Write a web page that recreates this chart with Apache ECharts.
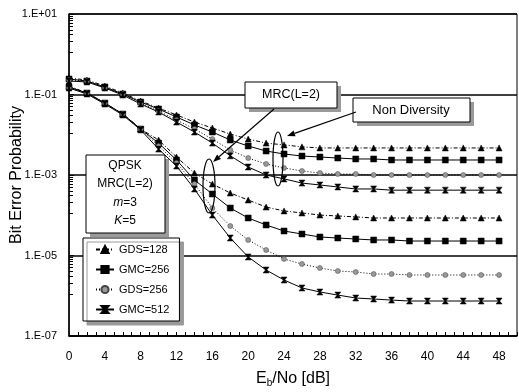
<!DOCTYPE html>
<html>
<head>
<meta charset="utf-8">
<script src="https://cdn.jsdelivr.net/npm/echarts@6.0.0/dist/echarts.min.js"></script>
<style>
  html, body { margin: 0; padding: 0; background: #fff; }
  #chart { width: 519px; height: 392px; }
</style>
</head>
<body>
<div id="chart"></div>
<script>
// Eb/No (dB) for every marker
const ebNo = [0, 2, 4, 6, 8, 10, 12, 14, 16, 18, 20, 22, 24, 26, 28, 30, 32, 34, 36, 38, 40, 42, 44, 46, 48];

// legend names
const seriesNames = ['GDS=128', 'GMC=256', 'GDS=256', 'GMC=512'];

// Non Diversity group (upper curves)
const ndGds128 = [0.257, 0.229, 0.163, 0.109, 0.069, 0.046, 0.031, 0.0207, 0.0147, 0.0104, 0.0078, 0.0062, 0.0056, 0.0050, 0.0047,
    0.0047, 0.0047, 0.0047, 0.0047, 0.0047, 0.0047, 0.0047, 0.0047, 0.0047, 0.0047];
const ndGmc256 = [0.243, 0.216, 0.154, 0.103, 0.065, 0.0436, 0.0276, 0.0175, 0.0117, 0.0074, 0.00525, 0.00394, 0.00333, 0.00296, 0.0028,
    0.00264, 0.0025, 0.0025, 0.00236, 0.00236, 0.00236, 0.00236, 0.00236, 0.00236, 0.00236];
const ndGds256 = [0.229, 0.216, 0.145, 0.103, 0.0615, 0.0389, 0.0232, 0.0139, 0.0078, 0.0042, 0.00264, 0.00188, 0.00149, 0.00126, 0.00112,
    0.00106, 0.00106, 0.001, 0.001, 0.001, 0.001, 0.001, 0.001, 0.001, 0.001];
const ndGmc512 = [0.216, 0.205, 0.145, 0.097, 0.058, 0.0367, 0.0207, 0.0117, 0.0062, 0.003, 0.00158, 0.001, 0.0008, 0.00063, 0.000565,
    0.000504, 0.00045, 0.00045, 0.00042, 0.00042, 0.00042, 0.00042, 0.00042, 0.00042, 0.00042];

// MRC(L=2) group (lower curves)
const mrcGds128 = [0.163, 0.109, 0.0615, 0.0328, 0.0139, 0.0074, 0.0028, 0.00112, 0.000597, 0.000357, 0.000239, 0.00016, 0.000128, 0.000114, 0.000101,
    0.000096, 0.000091, 0.0000855, 0.0000855, 0.0000855, 0.0000855, 0.0000855, 0.0000855, 0.0000855, 0.0000855];
const mrcGmc256 = [0.154, 0.109, 0.0615, 0.0328, 0.0139, 0.0062, 0.00236, 0.00075, 0.000337, 0.000151, 0.0000855, 0.0000573, 0.0000406, 0.0000342, 0.0000288,
    0.0000272, 0.0000257, 0.0000243, 0.0000243, 0.0000229, 0.0000229, 0.0000229, 0.0000229, 0.0000229, 0.0000229];
const mrcGds256 = [0.145, 0.109, 0.0615, 0.0328, 0.0139, 0.00525, 0.00199, 0.000597, 0.000151, 0.0000541, 0.0000243, 0.0000137, 0.0000082, 0.00000615, 0.00000489,
    0.00000412, 0.00000389, 0.00000347, 0.00000347, 0.00000328, 0.00000328, 0.00000328, 0.00000328, 0.00000328, 0.00000328];
const mrcGmc512 = [0.145, 0.103, 0.058, 0.031, 0.0132, 0.0044, 0.00167, 0.00045, 0.000101, 0.0000272, 0.0000092, 0.00000436, 0.00000246, 0.00000156, 0.00000124,
    0.00000104, 0.00000088, 0.00000083, 0.00000078, 0.00000074, 0.00000074, 0.00000074, 0.00000074, 0.00000074, 0.00000074];

const FONT = '"Liberation Sans", Arial, sans-serif';

// marker + line look of each legend entry
const looks = {
    'GDS=128': { symbol: 'triangle', size: 6, fill: '#000', stroke: '#000', dash: [4, 2, 1, 2] },
    'GMC=256': { symbol: 'rect', size: 6, fill: '#000', stroke: '#000', dash: 'solid' },
    'GDS=256': { symbol: 'circle', size: 5, fill: '#999', stroke: '#444', dash: [1, 2] },
    'GMC=512': { symbol: 'path://M0,0L10,0L6,5L10,10L0,10L4,5Z', size: 6, fill: '#000', stroke: '#000', dash: 'solid' }
};

function makeSeries(name, values) {
    const l = looks[name];
    return {
        name: name,
        type: 'line',
        data: ebNo.map((x, i) => [x, values[i]]),
        symbol: l.symbol,
        symbolSize: l.size,
        showAllSymbol: true,
        itemStyle: { color: l.fill, borderColor: l.stroke, borderWidth: 0.5 },
        lineStyle: { color: '#000', width: 1, type: l.dash },
        emphasis: { disabled: true },
        z: 3
    };
}

// 1.E-03 style labels
function expLabel(v) {
    const e = Math.round(Math.log10(v));
    return '1.E' + (e < 0 ? '-' : '+') + String(Math.abs(e)).padStart(2, '0');
}

// box with the grey shadow at bottom right
function box(x, y, w, h) {
    return [
        { type: 'rect', shape: { x: x + 4, y: y + 4, width: w, height: h }, style: { fill: '#9a9a9a' }, z: 10 },
        { type: 'rect', shape: { x: x, y: y, width: w, height: h }, style: { fill: '#fff', stroke: '#000', lineWidth: 1 }, z: 11 }
    ];
}

function label(text, x, y, size, rich) {
    return {
        type: 'text', z: 12,
        style: { text: text, x: x, y: y, font: size + 'px ' + FONT, fill: '#000', align: 'center', verticalAlign: 'middle', rich: rich }
    };
}

function arrow(x1, y1, x2, y2) {
    const a = Math.atan2(y2 - y1, x2 - x1);
    const len = 8, wid = 3;
    const bx = x2 - len * Math.cos(a), by = y2 - len * Math.sin(a);
    return [
        { type: 'line', shape: { x1: x1, y1: y1, x2: bx, y2: by }, style: { stroke: '#000', lineWidth: 1.2 }, z: 12 },
        { type: 'polygon', z: 12, shape: { points: [[x2, y2],
            [bx + wid * Math.sin(a), by - wid * Math.cos(a)],
            [bx - wid * Math.sin(a), by + wid * Math.cos(a)]] }, style: { fill: '#000' } }
    ];
}

const italic = { i: { fontStyle: 'italic', fontSize: 12, fontFamily: FONT } };

const graphics = [].concat(
    box(86, 155, 79, 78),
    [label('QPSK', 125, 166, 12), label('MRC(L=2)', 125, 184, 12),
     label('{i|m}=3', 125, 203, 12, italic), label('{i|K}=5', 125, 221, 12, italic)],
    box(245, 82, 92, 26),
    [label('MRC(L=2)', 291, 95, 12.5)],
    box(353, 98, 117, 24),
    [label('Non Diversity', 411, 110, 13)],
    [{ type: 'ellipse', shape: { cx: 209, cy: 186, rx: 6, ry: 27 }, style: { fill: 'none', stroke: '#000', lineWidth: 1.2 }, z: 12 },
     { type: 'ellipse', shape: { cx: 278, cy: 159, rx: 5, ry: 27 }, style: { fill: 'none', stroke: '#000', lineWidth: 1.2 }, z: 12 }],
    arrow(274, 109, 213, 162),
    arrow(356, 112, 287, 136)
);

const chart = echarts.init(document.getElementById('chart'));
chart.setOption({
    animation: false,
    backgroundColor: '#fff',
    textStyle: { fontFamily: FONT, color: '#000' },
    grid: { left: 69, top: 14, right: 2, bottom: 56, outerBoundsMode: 'none', containLabel: false,
        show: true, borderColor: '#000', borderWidth: 1, backgroundColor: '#fff' },
    legend: {
        data: seriesNames,
        orient: 'vertical',
        left: 83, top: 238,
        itemWidth: 18, itemHeight: 9, itemGap: 9,
        padding: [6, 10, 6, 12],
        backgroundColor: '#fff', borderColor: '#000', borderWidth: 1,
        shadowColor: '#9a9a9a', shadowBlur: 0, shadowOffsetX: 4, shadowOffsetY: 4,
        textStyle: { fontSize: 11, fontFamily: FONT, color: '#000' },
        selectedMode: false,
        z: 12
    },
    xAxis: {
        type: 'value', min: 0, max: 50, interval: 4,
        name: 'E{sub|b}/No [dB]', nameLocation: 'middle', nameGap: 34, nameMoveOverlap: false,
        nameTextStyle: { fontSize: 16, fontFamily: FONT, color: '#000',
            rich: { sub: { fontSize: 10, fontFamily: FONT, verticalAlign: 'bottom', padding: [8, 0, 0, 0] } } },
        axisLine: { lineStyle: { color: '#000', width: 1.5 } },
        axisTick: { inside: true, length: 4, lineStyle: { color: '#000' } },
        minorTick: { show: true, splitNumber: 4, length: 4, lineStyle: { color: '#000' } },
        axisLabel: { fontSize: 12, margin: 15, color: '#000', formatter: v => (v % 4 === 0 && v <= 48) ? String(v) : '' },
        splitLine: { show: false }
    },
    yAxis: {
        type: 'log', logBase: 10, min: 1e-7, max: 10, interval: 2,
        name: 'Bit Error Probability', nameLocation: 'middle', nameGap: 44, nameMoveOverlap: false,
        nameTextStyle: { fontSize: 16, fontFamily: FONT, color: '#000' },
        axisLine: { show: true, lineStyle: { color: '#000', width: 1.5 } },
        axisTick: { inside: true, length: 5, lineStyle: { color: '#000' } },
        minorTick: { show: true, splitNumber: 10, length: 4, lineStyle: { color: '#000' } },
        axisLabel: { fontSize: 11, margin: 12, color: '#000', formatter: expLabel },
        splitLine: { show: true, lineStyle: { color: '#000', width: 1.5 } }
    },
    series: [
        makeSeries('GDS=128', ndGds128),
        makeSeries('GMC=256', ndGmc256),
        makeSeries('GDS=256', ndGds256),
        makeSeries('GMC=512', ndGmc512),
        makeSeries('GDS=128', mrcGds128),
        makeSeries('GMC=256', mrcGmc256),
        makeSeries('GDS=256', mrcGds256),
        makeSeries('GMC=512', mrcGmc512)
    ],
    graphic: graphics
});
</script>
</body>
</html>
